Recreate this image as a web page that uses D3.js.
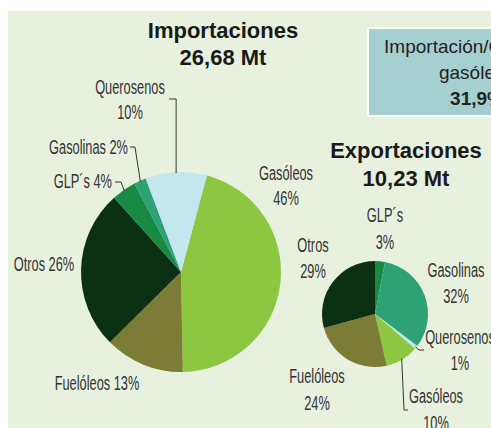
<!DOCTYPE html>
<html>
<head>
<meta charset="utf-8">
<script src="https://cdn.jsdelivr.net/npm/d3@7"></script>
<style>
  body { margin: 0; background: #fff; }
  svg { display: block; }
  .lbl { font-family: "Liberation Sans", Arial, sans-serif; font-size: 20px; fill: #333; }
  .ttl { font-family: "Liberation Sans", Arial, sans-serif; font-size: 22px; font-weight: bold; fill: #1a1a1a; }
</style>
</head>
<body>
<script>
// import shares (%)
var impCats = ["Gasóleos", "Fuelóleos", "Otros", "GLP´s", "Gasolinas", "Querosenos"]
var impVals = [46, 13, 26, 4, 2, 10]
var impTotal = "26,68 Mt"

// export shares (%)
var expCats = ["GLP´s", "Gasolinas", "Querosenos", "Gasóleos", "Fuelóleos", "Otros"]
var expVals = [3, 32, 1, 10, 24, 29]
var expTotal = "10,23 Mt"

var ratioLines = ["Importación/Consumo", "gasóleos", "31,9%"]

var colors = {
  "Gasóleos": "#8dc641",
  "Fuelóleos": "#7b7c36",
  "Otros": "#0b3013",
  "GLP´s": "#188a44",
  "Gasolinas": "#2fa275",
  "Querosenos": "#c4e6ef"
}

var width = 491, height = 428

var svg = d3.select("body").append("svg")
    .attr("width", width)
    .attr("height", height)

svg.append("rect")
    .attr("x", 8).attr("y", 11)
    .attr("width", width - 8).attr("height", height - 11)
    .attr("fill", "#e8f1de")

// ratio box (runs off the right edge, as in the original)
svg.append("rect")
    .attr("x", 368).attr("y", 28)
    .attr("width", 140).attr("height", 88)
    .attr("fill", "#a6d0cf")
    .attr("stroke", "#fff").attr("stroke-width", 2)

var boxText = svg.append("text")
    .attr("font-family", "Liberation Sans, Arial, sans-serif")
    .attr("font-size", 19)
    .attr("fill", "#222")
    .attr("text-anchor", "middle")
ratioLines.forEach(function (t, i) {
  boxText.append("tspan")
      .attr("x", 477)
      .attr("y", 53 + i * 26)
      .attr("font-weight", i == 2 ? "bold" : "normal")
      .text(t)
})

// layout for each pie: centre, radius, start angle, titles, labels, leaders
var layouts = [{
  cats: impCats, vals: impVals,
  cx: 181, cy: 272, r: 100, start: 15,
  title: ["Importaciones", impTotal], tx: 223, ty: [38, 65],
  labels: {
    "Querosenos": {x: 130, y: [94, 119], lines: ["Querosenos", "10%"]},
    "Gasolinas": {x: 128, y: [154], anchor: "end", lines: ["Gasolinas 2%"]},
    "GLP´s": {x: 112, y: [188], anchor: "end", lines: ["GLP´s 4%"]},
    "Otros": {x: 44, y: [271], lines: ["Otros 26%"]},
    "Fuelóleos": {x: 97, y: [390], lines: ["Fuelóleos 13%"]},
    "Gasóleos": {x: 286, y: [180, 205], lines: ["Gasóleos", "46%"]}
  },
  leaders: {
    "Querosenos": [[null, 99], [169, 99]],
    "Gasolinas": [[135, 147], [130, 147]],
    "GLP´s": [[121, 182], [115, 182]]
  }
}, {
  cats: expCats, vals: expVals,
  cx: 375, cy: 314, r: 53, start: 0,
  title: ["Exportaciones", expTotal], tx: 406, ty: [158, 186],
  labels: {
    "GLP´s": {x: 385, y: [222, 249], lines: ["GLP´s", "3%"]},
    "Otros": {x: 313, y: [252, 278], lines: ["Otros", "29%"]},
    "Gasolinas": {x: 456, y: [277, 303], lines: ["Gasolinas", "32%"]},
    "Querosenos": {x: 460, y: [344, 370], lines: ["Querosenos", "1%"]},
    "Fuelóleos": {x: 317, y: [383, 410], lines: ["Fuelóleos", "24%"]},
    "Gasóleos": {x: 436, y: [403, 430], lines: ["Gasóleos", "10%"]}
  },
  leaders: {
    "Querosenos": [[419, 350], [424, 350]],
    "Gasóleos": [[404, 410], [408, 410]]
  }
}]

layouts.forEach(function (L) {
  var rows = L.cats.map(function (c, i) { return {cat: c, val: L.vals[i]} })
  var a0 = L.start * Math.PI / 180
  var pie = d3.pie()
      .sort(null)
      .value(function (d) { return d.val })
      .startAngle(a0)
      .endAngle(a0 + 2 * Math.PI)
  var arc = d3.arc().innerRadius(0).outerRadius(L.r)
  var edge = d3.arc().innerRadius(L.r - 1).outerRadius(L.r - 1)

  var g = svg.append("g").attr("transform", "translate(" + L.cx + "," + L.cy + ")")
  var arcs = pie(rows)

  g.selectAll("path.slice")
      .data(arcs)
      .enter().append("path")
      .attr("class", "slice")
      .attr("d", arc)
      .attr("fill", function (d) { return colors[d.data.cat] })

  // leader lines from the slice edge to the label
  arcs.forEach(function (d) {
    var pts = L.leaders[d.data.cat]
    if (!pts) return
    var c = edge.centroid(d)
    var p0 = [L.cx + c[0], L.cy + c[1]]
    var path = [p0].concat(pts.map(function (p) {
      return [p[0] == null ? p0[0] : p[0], p[1]]
    }))
    svg.append("path")
        .attr("d", d3.line()(path))
        .attr("fill", "none")
        .attr("stroke", "#333")
        .attr("stroke-width", 1)
  })

  // titles
  L.title.forEach(function (t, i) {
    svg.append("text")
        .attr("class", "ttl")
        .attr("x", L.tx)
        .attr("y", L.ty[i])
        .attr("text-anchor", "middle")
        .text(t)
  })

  // slice labels, squeezed to look like the narrow original face
  L.cats.forEach(function (c) {
    var lb = L.labels[c]
    lb.lines.forEach(function (t, i) {
      svg.append("g")
          .attr("transform", "translate(" + lb.x + "," + lb.y[i] + ") scale(0.64,1)")
        .append("text")
          .attr("class", "lbl")
          .attr("text-anchor", lb.anchor || "middle")
          .text(t)
    })
  })
})
</script>
</body>
</html>
